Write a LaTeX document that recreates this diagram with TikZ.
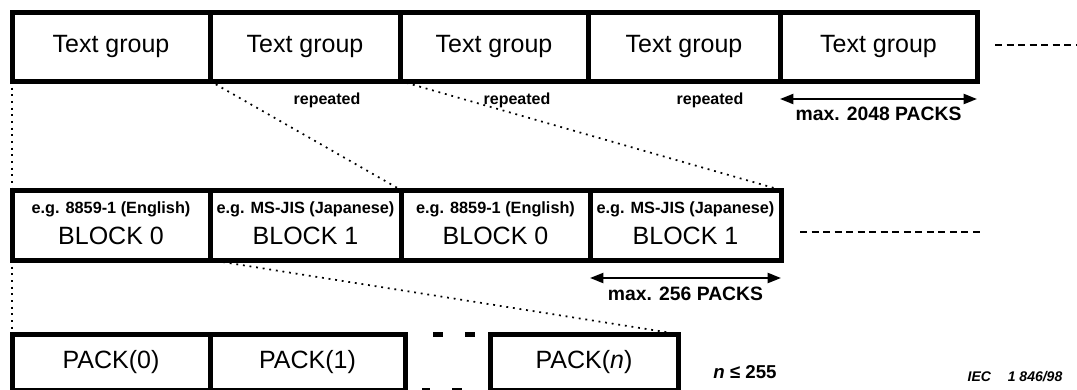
\documentclass[tikz,border=0pt]{standalone}
\usepackage{fontspec}
\setmainfont{Liberation Sans}
\usetikzlibrary{arrows.meta}
\begin{document}
\begin{tikzpicture}[x=0.75pt,y=-0.75pt,
  cell/.style={draw, line width=3.75pt, inner sep=0pt, outer sep=0pt, anchor=north west},
  big/.style={font=\fontsize{18.75}{20}\selectfont},
  small/.style={font=\fontsize{12.2}{14}\selectfont\bfseries, inner sep=0pt},
  lbl/.style={font=\fontsize{12}{14}\selectfont\bfseries, inner sep=0pt},
  dimlbl/.style={font=\fontsize{14.5}{17}\selectfont\bfseries, inner sep=0pt},
  dotline/.style={line width=1.3pt, dash pattern=on 1.4pt off 3.6pt},
  dashline/.style={line width=1.1pt, dash pattern=on 5.25pt off 3.4pt},
  dimarrow/.style={line width=1.5pt, {Triangle[length=10pt,width=7.5pt]}-{Triangle[length=10pt,width=7.5pt]}},
  gapdash/.style={line width=3.75pt}
]
\useasboundingbox (0,0) rectangle (1077,389);

% top row
\node[cell, big, minimum width=148.5pt,  minimum height=51.75pt] (t1) at (12,12)  {Text group};
\node[cell, big, minimum width=142.5pt,  minimum height=51.75pt] (t2) at (210,12) {Text group};
\node[cell, big, minimum width=141pt,    minimum height=51.75pt] (t3) at (400,12) {Text group};
\node[cell, big, minimum width=144pt,    minimum height=51.75pt] (t4) at (588,12) {Text group};
\node[cell, big, minimum width=147.75pt, minimum height=51.75pt] (t5) at (780,12) {Text group};

% middle row
\node[cell, minimum width=148.5pt,  minimum height=52.5pt] (b1) at (12,190)  {};
\node[cell, minimum width=143.25pt, minimum height=52.5pt] (b2) at (210,190) {};
\node[cell, minimum width=141.75pt, minimum height=52.5pt] (b3) at (401,190) {};
\node[cell, minimum width=143.25pt, minimum height=52.5pt] (b4) at (590,190) {};
\foreach \n/\s/\l in {b1/e.g. 8859-1 (English)/BLOCK 0, b2/e.g. MS-JIS (Japanese)/BLOCK 1,
                      b3/e.g. 8859-1 (English)/BLOCK 0, b4/e.g. MS-JIS (Japanese)/BLOCK 1}{
  \node[small] (\n s) at ([yshift=12pt]\n.center) {\s};
  \node[big, inner sep=0pt] (\n l) at ([yshift=-8pt]\n.center) {\l};
}

% bottom row
\node[cell, big, minimum width=148.5pt,  minimum height=42pt] (p1) at (12,334)  {PACK(0)};
\node[cell, big, minimum width=146.25pt, minimum height=42pt] (p2) at (210,334) {PACK(1)};
\node[cell, big, minimum width=141pt,    minimum height=42pt] (pn) at (490,334) {PACK(\textit{n})};

% gap dashes
\draw[gapdash] (433,334) -- (443,334);
\draw[gapdash] (465,334) -- (475,334);
\draw[gapdash] (422,390) -- (430,390);
\draw[gapdash] (452,390) -- (462,390);

% dotted expansion lines
\draw[dotline] (t1.south west) -- (b1.north west);
\draw[dotline] (t2.south west) -- (b3.north west);
\draw[dotline] (t3.south west) -- (b4.north east);
\draw[dotline] (b1.south west) -- (p1.north west);
\draw[dotline] (b2.south west) -- (pn.north east);

% repeated labels
\node[lbl] (r1) at (327,100) {repeated};
\node[lbl] (r2) at (517,100) {repeated};
\node[lbl] (r3) at (710,100) {repeated};

% dimension arrows
\draw[dimarrow] ([yshift=-13.5pt]t5.south west) -- node[dimlbl, midway, yshift=-11pt] (d1) {max. 2048 PACKS} ([yshift=-13.5pt]t5.south east);
\draw[dimarrow] ([yshift=-13.5pt]b4.south west) -- node[dimlbl, midway, yshift=-12pt] (d2) {max. 256 PACKS} ([yshift=-13.5pt]b4.south east);

% continuation dashes
\coordinate (c1) at (995,45);
\coordinate (c2) at (1077,45);
\coordinate (c3) at (800,232);
\coordinate (c4) at (980,232);
\draw[dashline] (c1) -- (c2);
\draw[dashline] (c3) -- (c4);

% notes
\node[font=\fontsize{14}{16}\selectfont\bfseries, inner sep=0pt] (nle) at (745,372) {\textit{n} ≤ 255};
\node[font=\fontsize{10.5}{12}\selectfont\bfseries\itshape, inner sep=0pt] (iec) at (1015,377) {IEC\hspace{1.2em}1 846/98};
\end{tikzpicture}
\end{document}
